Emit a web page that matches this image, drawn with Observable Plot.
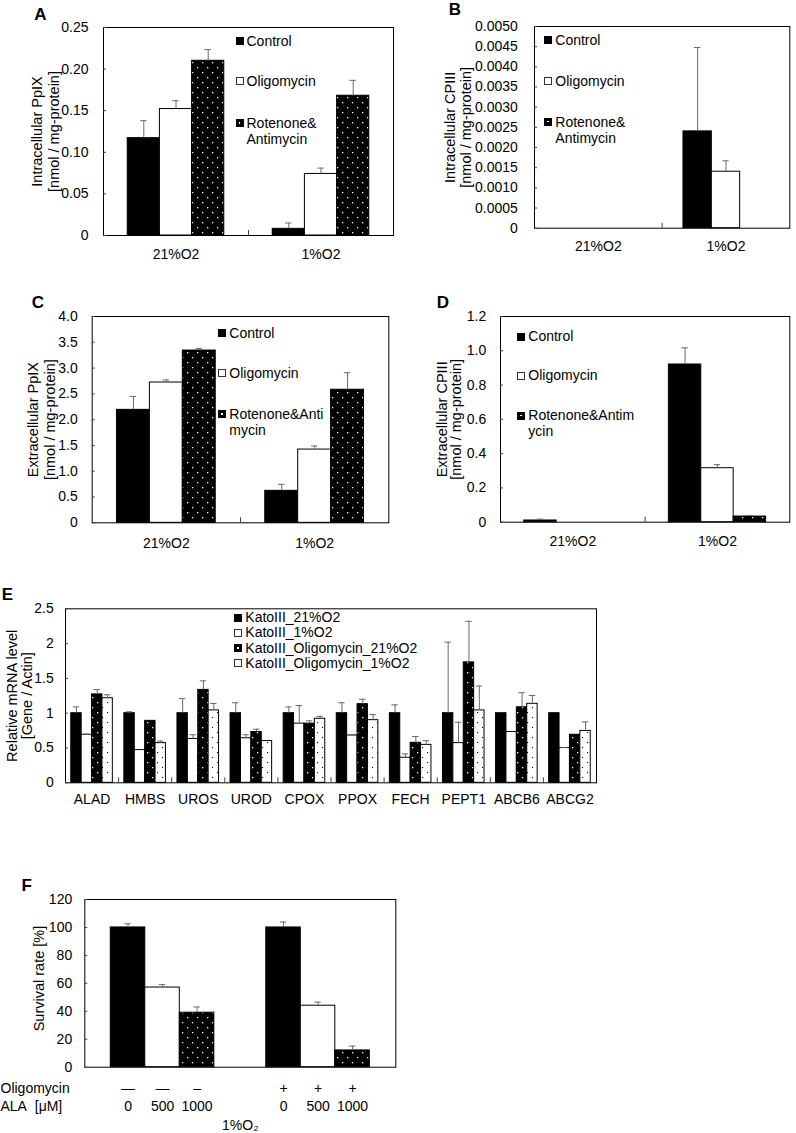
<!DOCTYPE html>
<html><head><meta charset="utf-8">
<script src="https://cdn.jsdelivr.net/npm/d3@7"></script>
<script src="https://cdn.jsdelivr.net/npm/@observablehq/plot@0.6"></script>
<style>
body{margin:0;background:#fff;}
#root{position:relative;width:796px;height:1133px;font-family:"Liberation Sans",Arial,sans-serif;color:#000;overflow:hidden;}
.panel{position:absolute;}
.letter{position:absolute;font-weight:bold;font-size:17px;line-height:1;transform:translate(-50%,-50%);}
.leg{position:absolute;display:flex;align-items:flex-start;font-size:14px;white-space:pre;}
.sq{width:8px;height:8px;box-sizing:border-box;flex:none;margin-right:3px;position:relative;}
</style></head><body><div id="root"></div><script>
// ---------------- data ----------------
const oxygen = ["21%O2", "1%O2"];
const treatments = ["Control", "Oligomycin", "Rotenone&Antimycin"];

const aMean = [[0.117, 0.152, 0.210], [0.008, 0.074, 0.168]];
const aErr  = [[0.021, 0.010, 0.0135], [0.007, 0.007, 0.0185]];
const aTicks = [0, 0.05, 0.10, 0.15, 0.20, 0.25];

const bMean = [[0, 0, 0], [0.0024, 0.0014, 0]];
const bErr  = [[0, 0, 0], [0.00208, 0.00027, 0]];
const bTicks = [0, 0.0005, 0.0010, 0.0015, 0.0020, 0.0025, 0.0030, 0.0035, 0.0040, 0.0045, 0.0050];

const cMean = [[2.19, 2.72, 3.34], [0.62, 1.42, 2.58]];
const cErr  = [[0.26, 0.05, 0.04], [0.125, 0.07, 0.33]];
const cTicks = [0, 0.5, 1.0, 1.5, 2.0, 2.5, 3.0, 3.5, 4.0];

const dMean = [[0.01, 0, 0], [0.92, 0.315, 0.033]];
const dErr  = [[0.008, 0, 0], [0.097, 0.021, 0.006]];
const dTicks = [0, 0.2, 0.4, 0.6, 0.8, 1.0, 1.2];

const genes = ["ALAD", "HMBS", "UROS", "UROD", "CPOX", "PPOX", "FECH", "PEPT1", "ABCB6", "ABCG2"];
const eSeries = ["KatoIII_21%O2", "KatoIII_1%O2", "KatoIII_Oligomycin_21%O2", "KatoIII_Oligomycin_1%O2"];
const eMean21   = [1.0, 1.0, 1.0, 1.0, 1.0, 1.0, 1.0, 1.0, 1.0, 1.0];
const eMean1    = [0.69, 0.47, 0.63, 0.64, 0.85, 0.68, 0.36, 0.57, 0.73, 0.50];
const eMeanO21  = [1.27, 0.89, 1.335, 0.73, 0.85, 1.13, 0.575, 1.73, 1.085, 0.69];
const eMeanO1   = [1.215, 0.57, 1.04, 0.60, 0.92, 0.90, 0.545, 1.04, 1.135, 0.745];
const eErr21    = [0.09, 0.02, 0.21, 0.15, 0.09, 0.15, 0.12, 1.02, 0, 0];
const eErr1     = [0.01, 0, 0.06, 0.05, 0.26, 0.01, 0.055, 0.30, 0, 0.005];
const eErrO21   = [0.07, 0, 0.13, 0.04, 0.04, 0.07, 0.09, 0.59, 0.21, 0];
const eErrO1    = [0.05, 0.03, 0.10, 0, 0.035, 0.08, 0.06, 0.35, 0.12, 0.13];
const eTicks = [0, 0.5, 1, 1.5, 2, 2.5];

const fOligomycin = [["—", "—", "–"], ["+", "+", "+"]];
const fAla = ["0", "500", "1000"];
const fMean = [[100, 57, 39], [100, 44, 12]];
const fErr  = [[2.6, 2.1, 4.1], [3.9, 2.6, 3.1]];
const fTicks = [0, 20, 40, 60, 80, 100, 120];

// ---------------- helpers ----------------
const NS = "http://www.w3.org/2000/svg";
const root = document.getElementById("root");

function patternDefs(id) {
  return () => {
    const defs = document.createElementNS(NS, "defs");
    defs.innerHTML =
      `<pattern id="${id}-dk" patternUnits="userSpaceOnUse" width="10" height="10">` +
      `<rect width="10" height="10" fill="#000"/>` +
      `<rect x="2" y="2" width="1.3" height="1.3" fill="#fff"/>` +
      `<rect x="7" y="7" width="1.3" height="1.3" fill="#fff"/></pattern>` +
      `<pattern id="${id}-lt" patternUnits="userSpaceOnUse" width="10" height="10">` +
      `<rect width="10" height="10" fill="#fff"/>` +
      `<rect x="2" y="2" width="1.1" height="1.1" fill="#000"/>` +
      `<rect x="7" y="7" width="1.1" height="1.1" fill="#000"/></pattern>`;
    return defs;
  };
}

function makePanel(cfg) {
  const n = cfg.groups.length, k = cfg.series;
  const rows = [];
  for (let g = 0; g < n; g++) for (let s = 0; s < k; s++) {
    const w = cfg.frac / k, x1 = g - cfg.frac / 2 + s * w;
    rows.push({g, s, x1, x2: x1 + w, xc: x1 + w / 2, v: cfg.mean(g, s), e: cfg.err(g, s)});
  }
  const innerW = cfg.width - cfg.ml - cfg.mr;
  const cap = 3.2 * n / innerW;
  const errRows = rows.filter(d => d.e > 0);
  const fillOf = f => f === "dark" ? `url(#${cfg.id}-dk)` : f === "light" ? `url(#${cfg.id}-lt)` : f;
  const marks = [
    patternDefs(cfg.id),
    ...cfg.fills.map((f, s) => Plot.rect(rows.filter(d => d.s === s && d.v > 0), {
      x1: "x1", x2: "x2", y1: () => 0, y2: "v", fill: fillOf(f), stroke: "#000", strokeWidth: 1
    })),
    Plot.ruleX(errRows, {x: "xc", y1: "v", y2: d => d.v + d.e, stroke: "#6a6a6a", strokeWidth: 1}),
    Plot.ruleY(errRows, {y: d => d.v + d.e, x1: d => d.xc - cap, x2: d => d.xc + cap, stroke: "#6a6a6a", strokeWidth: 1}),
    Plot.frame({stroke: "#000", strokeWidth: 1}),
    Plot.axisY({ticks: cfg.yTicks, tickFormat: cfg.yFmt, tickSize: 3, dx: 3, tickPadding: cfg.yPad, label: null, stroke: "#444"}),
    Plot.text([cfg.title], {frameAnchor: "left", rotate: -90, dx: cfg.titleDx, dy: cfg.titleDy || 0,
      lineHeight: cfg.titleLH || 1.1, textAnchor: "middle", lineAnchor: "middle", fontSize: 14.5})
  ];
  if (cfg.catLabels) {
    marks.push(Plot.axisX({ticks: d3.range(n), tickFormat: i => cfg.groups[i], tickSize: 0, tickPadding: cfg.xPad, label: null}));
  }
  if (cfg.sep) {
    marks.push(Plot.axisX({ticks: d3.range(n - 1).map(i => i + 0.5), tickFormat: () => "", tickSize: 5, dy: -5, label: null, stroke: "#444"}));
  }
  if (cfg.extra) marks.push(...cfg.extra(rows));
  const xScale = {domain: [-0.5, n - 0.5]};
  if (!cfg.catLabels && !cfg.sep) xScale.axis = null;
  const svg = Plot.plot({
    width: cfg.width, height: cfg.height,
    marginLeft: cfg.ml, marginRight: cfg.mr, marginTop: cfg.mt, marginBottom: cfg.mb,
    x: xScale,
    y: {domain: cfg.yDomain},
    style: {fontFamily: '"Liberation Sans", Arial, sans-serif', fontSize: "14px", background: "transparent", overflow: "visible", color: "#000"},
    marks
  });
  const div = document.createElement("div");
  div.className = "panel";
  div.style.left = cfg.left + "px";
  div.style.top = cfg.top + "px";
  div.appendChild(svg);
  root.appendChild(div);
}

function letter(t, x, y) {
  const d = document.createElement("div");
  d.className = "letter"; d.textContent = t;
  d.style.left = x + "px"; d.style.top = y + "px";
  root.appendChild(d);
}

function squareStyle(kind) {
  if (kind === "#000") return "background:#000;";
  if (kind === "#fff") return "background:#fff;border:1px solid #333;";
  if (kind === "dark") return "background:#000;";
  return "background:#fff;border:1px solid #333;";
}

function legend(items, sqLeft, centers, lh) {
  items.forEach((it, i) => {
    const d = document.createElement("div");
    d.className = "leg";
    d.style.left = sqLeft + "px";
    d.style.top = (centers[i] - lh / 2) + "px";
    d.style.lineHeight = lh + "px";
    const sq = document.createElement("span");
    sq.className = "sq";
    sq.style.cssText = squareStyle(it.kind) + `margin-top:${(lh - 8) / 2}px;`;
    if (it.kind === "dark") {
      const dot = document.createElement("span");
      dot.style.cssText = "position:absolute;left:3px;top:3px;width:1.5px;height:1.5px;background:#fff;";
      sq.appendChild(dot);
    }
    const tx = document.createElement("div");
    tx.textContent = it.label;
    d.appendChild(sq); d.appendChild(tx);
    root.appendChild(d);
  });
}

const wrap = (s, at) => at ? s.slice(0, at) + "\n" + s.slice(at) : s;
const fmtFixed = p => d => d === 0 ? "0" : d.toFixed(p);
const o2Fills = ["#000", "#fff", "dark"];

// ---------------- panels ----------------
makePanel({id: "pa", left: 0, top: 0, width: 400, height: 270, ml: 103, mt: 27, mr: 7, mb: 35,
  groups: oxygen, series: 3, frac: 0.666, mean: (g, s) => aMean[g][s], err: (g, s) => aErr[g][s],
  fills: o2Fills, yDomain: [0, 0.25], yTicks: aTicks, yFmt: fmtFixed(2), yPad: 15, xPad: 13.3,
  title: "Intracellular PpIX\n[nmol / mg-protein]", titleDx: -58.5, titleLH: 1.17, catLabels: true, sep: true});

makePanel({id: "pb", left: 400, top: 0, width: 396, height: 270, ml: 134, mt: 26, mr: 6.7, mb: 42.3,
  groups: oxygen, series: 3, frac: 0.666, mean: (g, s) => bMean[g][s], err: (g, s) => bErr[g][s],
  fills: o2Fills, yDomain: [0, 0.005], yTicks: bTicks, yFmt: fmtFixed(4), yPad: 16.7, xPad: 13.3,
  title: "Intracellular CPIII\n[nmol / mg-protein]", titleDx: -76.5, titleLH: 1.05, catLabels: true, sep: true});

makePanel({id: "pc", left: 0, top: 285, width: 400, height: 285, ml: 91.7, mt: 31, mr: 11.7, mb: 47.7,
  groups: oxygen, series: 3, frac: 0.666, mean: (g, s) => cMean[g][s], err: (g, s) => cErr[g][s],
  fills: o2Fills, yDomain: [0, 4], yTicks: cTicks, yFmt: fmtFixed(1), yPad: 14.4, xPad: 15,
  title: "Extracellular PpIX\n[nmol / mg-protein]", titleDx: -50.9, titleLH: 1.12, catLabels: true, sep: true});

makePanel({id: "pd", left: 400, top: 285, width: 396, height: 285, ml: 100, mt: 31, mr: 6.7, mb: 48.3,
  groups: oxygen, series: 3, frac: 0.672, mean: (g, s) => dMean[g][s], err: (g, s) => dErr[g][s],
  fills: o2Fills, yDomain: [0, 1.2], yTicks: dTicks, yFmt: fmtFixed(1), yPad: 14.3, xPad: 14,
  title: "Extracellular CPIII\n[nmol / mg-protein]", titleDx: -51.3, titleLH: 1.02, catLabels: true, sep: true});

const eMeans = [eMean21, eMean1, eMeanO21, eMeanO1];
const eErrs = [eErr21, eErr1, eErrO21, eErrO1];
const eFills = ["#000", "#fff", "dark", "light"];
makePanel({id: "pe", left: 0, top: 575, width: 796, height: 240, ml: 65, mt: 33.3, mr: 200, mb: 32.7,
  groups: genes, series: 4, frac: 0.783, mean: (g, s) => eMeans[s][g], err: (g, s) => eErrs[s][g],
  fills: eFills, yDomain: [0, 2.5], yTicks: eTicks, yFmt: d => String(d), yPad: 11.7, xPad: 11,
  title: "Relative mRNA level\n[Gene / Actin]", titleDx: -46.2, titleLH: 1.05, catLabels: true, sep: true});

makePanel({id: "pf", left: 0, top: 870, width: 420, height: 263, ml: 84.3, mt: 29, mr: 24.7, mb: 66.3,
  groups: ["−", "+"], series: 3, frac: 0.666, mean: (g, s) => fMean[g][s], err: (g, s) => fErr[g][s],
  fills: o2Fills, yDomain: [0, 120], yTicks: fTicks, yFmt: d => String(d), yPad: 12.6,
  title: "Survival rate [%]", titleDx: -46.1, titleDy: -4.8, catLabels: false, sep: false,
  extra: rows => [
    Plot.text(rows, {x: "xc", text: d => fOligomycin[d.g][d.s], frameAnchor: "bottom", dy: 21, lineAnchor: "middle"}),
    Plot.text(rows, {x: "xc", text: d => fAla[d.s], frameAnchor: "bottom", dy: 39, lineAnchor: "middle"}),
    Plot.text(["Oligomycin"], {frameAnchor: "bottom-left", dx: -84.3, dy: 21, textAnchor: "start", lineAnchor: "middle"}),
    Plot.text(["ALA\u00a0\u00a0[μM]"], {frameAnchor: "bottom-left", dx: -84.3, dy: 39, textAnchor: "start", lineAnchor: "middle"}),
    Plot.text(["1%O₂"], {frameAnchor: "bottom", dy: 58.3, lineAnchor: "middle"})
  ]});

// ---------------- legends & letters ----------------
const o2Items = at => treatments.map((t, i) => ({label: i === 2 ? wrap(t, at) : t, kind: o2Fills[i]}));
legend(o2Items(9), 235.5, [40.7, 81, 123.3], 16);
legend(o2Items(9), 544.3, [40, 81, 121.7], 16);
legend(o2Items(13), 218.3, [332.7, 373.3, 414], 16);
legend(o2Items(14), 517.3, [336.7, 376, 416], 15.7);
legend(eSeries.map((t, i) => ({label: t, kind: eFills[i]})), 234.3, [617.7, 632.7, 648.3, 663.3], 15);

letter("A", 40.5, 14);
letter("B", 455, 9);
letter("C", 38, 301.5);
letter("D", 443, 301.5);
letter("E", 7.5, 594);
letter("F", 26.7, 885);
</script></body></html>
